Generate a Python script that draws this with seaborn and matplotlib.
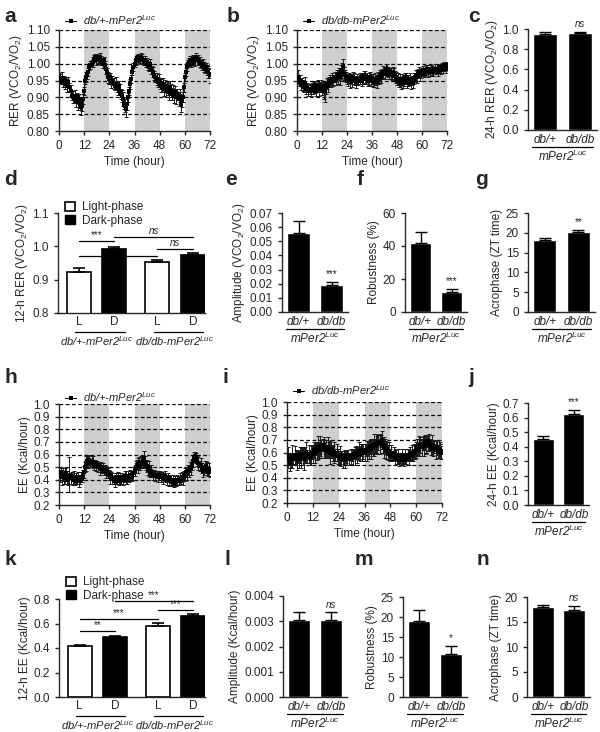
import numpy as np
import pandas as pd
import seaborn as sns
import matplotlib
matplotlib.use('Agg')
import matplotlib.pyplot as plt
import matplotlib.transforms as mtrans
from matplotlib.patches import Patch

# ---- time series, one value every 0.5 h from 0 to 72 h ----
rer_het = [0.960,0.955,0.950,0.958,0.945,0.952,0.940,0.948,0.935,0.945,0.930,0.920,
           0.905,0.900,0.895,0.905,0.890,0.900,0.885,0.895,0.880,0.870,0.875,0.895,
           0.920,0.950,0.960,0.965,0.975,0.990,0.995,1.000,1.005,1.015,1.020,1.010,
           1.020,1.015,1.010,1.020,1.010,1.005,1.000,1.010,0.995,0.985,0.975,0.960,
           0.955,0.960,0.945,0.950,0.940,0.935,0.940,0.930,0.925,0.935,0.920,0.910,
           0.905,0.895,0.880,0.875,0.865,0.880,0.900,0.920,0.940,0.955,0.975,0.990,
           1.000,1.010,1.015,1.020,1.015,1.010,1.020,1.015,1.010,1.005,1.010,1.000,
           1.005,0.995,0.990,1.000,0.985,0.980,0.975,0.965,0.960,0.955,0.945,0.950,
           0.940,0.935,0.930,0.940,0.925,0.935,0.920,0.930,0.925,0.915,0.930,0.920,
           0.910,0.920,0.905,0.915,0.900,0.910,0.895,0.905,0.880,0.890,0.900,0.930,
           0.960,0.975,0.990,1.000,1.005,1.010,1.000,1.010,1.015,1.005,1.010,1.020,
           1.010,1.015,1.005,1.000,0.995,1.000,0.990,0.985,0.990,0.980,0.975,0.970,0.965]
rer_het_err = [0.012,0.015,0.010,0.018,0.014,0.011,0.016,0.013,0.020,0.015,0.012,0.017,
               0.014,0.018,0.011,0.016,0.019,0.013,0.022,0.015,0.018,0.021,0.016,0.014,
               0.012,0.010,0.015,0.011,0.013,0.009,0.012,0.010,0.014,0.011,0.009,0.013,
               0.010,0.012,0.009,0.011,0.013,0.010,0.014,0.011,0.012,0.015,0.013,0.016,
               0.015,0.012,0.018,0.014,0.016,0.013,0.019,0.015,0.017,0.014,0.020,0.016,
               0.018,0.021,0.015,0.019,0.022,0.017,0.014,0.012,0.015,0.011,0.010,0.012,
               0.010,0.013,0.011,0.009,0.012,0.010,0.011,0.014,0.012,0.010,0.013,0.011,
               0.012,0.014,0.011,0.013,0.015,0.012,0.016,0.014,0.013,0.017,0.015,0.018,
               0.016,0.019,0.014,0.018,0.021,0.016,0.020,0.017,0.019,0.022,0.018,0.020,
               0.019,0.017,0.021,0.018,0.020,0.016,0.022,0.019,0.024,0.018,0.015,0.013,
               0.012,0.011,0.013,0.010,0.012,0.014,0.011,0.013,0.010,0.012,0.015,0.011,
               0.013,0.011,0.014,0.012,0.015,0.013,0.016,0.014,0.012,0.015,0.018,0.013,0.022]

rer_dbdb = [0.955,0.960,0.945,0.950,0.940,0.945,0.935,0.930,0.940,0.925,0.930,0.920,
            0.925,0.920,0.930,0.925,0.935,0.930,0.920,0.930,0.935,0.925,0.930,0.935,
            0.925,0.935,0.920,0.915,0.930,0.940,0.935,0.945,0.950,0.945,0.955,0.950,
            0.960,0.955,0.965,0.960,0.970,0.960,0.975,0.980,0.990,0.970,0.965,0.960,
            0.955,0.950,0.960,0.945,0.955,0.950,0.960,0.955,0.950,0.945,0.955,0.950,
            0.955,0.960,0.950,0.955,0.965,0.960,0.955,0.960,0.950,0.955,0.960,0.950,
            0.955,0.950,0.945,0.955,0.950,0.945,0.960,0.955,0.965,0.960,0.970,0.975,
            0.970,0.985,0.980,0.975,0.970,0.975,0.970,0.965,0.975,0.970,0.965,0.960,
            0.950,0.955,0.945,0.950,0.940,0.955,0.945,0.950,0.960,0.955,0.945,0.950,
            0.955,0.940,0.950,0.945,0.955,0.960,0.965,0.960,0.970,0.975,0.965,0.970,
            0.975,0.980,0.970,0.975,0.980,0.985,0.975,0.980,0.975,0.985,0.980,0.975,
            0.985,0.980,0.985,0.975,0.990,0.985,0.980,0.990,0.985,0.995,0.990,0.985,0.995]
rer_dbdb_err = [0.015,0.020,0.012,0.016,0.018,0.013,0.017,0.014,0.019,0.015,0.012,0.016,
                0.014,0.017,0.013,0.016,0.012,0.018,0.015,0.013,0.017,0.020,0.014,0.016,
                0.018,0.015,0.025,0.030,0.020,0.016,0.019,0.014,0.017,0.015,0.018,0.016,
                0.015,0.019,0.016,0.021,0.018,0.024,0.020,0.022,0.025,0.019,0.017,0.015,
                0.014,0.017,0.013,0.016,0.015,0.018,0.014,0.016,0.013,0.017,0.015,0.014,
                0.016,0.013,0.017,0.015,0.014,0.018,0.016,0.013,0.015,0.017,0.014,0.016,
                0.015,0.018,0.014,0.016,0.013,0.017,0.015,0.014,0.016,0.018,0.015,0.017,
                0.016,0.014,0.018,0.015,0.017,0.013,0.016,0.014,0.015,0.017,0.013,0.016,
                0.014,0.017,0.015,0.018,0.016,0.014,0.017,0.015,0.013,0.016,0.018,0.015,
                0.017,0.015,0.014,0.018,0.016,0.013,0.015,0.017,0.014,0.016,0.015,0.013,
                0.012,0.014,0.011,0.013,0.015,0.012,0.014,0.011,0.013,0.012,0.014,0.011,
                0.013,0.011,0.014,0.012,0.010,0.013,0.011,0.012,0.014,0.011,0.013,0.012,0.010]

ee_het = [0.45,0.43,0.46,0.42,0.44,0.41,0.43,0.45,0.42,0.40,0.44,0.41,
          0.43,0.40,0.42,0.39,0.41,0.40,0.42,0.39,0.40,0.42,0.41,0.44,
          0.46,0.50,0.53,0.55,0.54,0.56,0.53,0.55,0.54,0.52,0.53,0.51,
          0.52,0.50,0.51,0.49,0.50,0.48,0.49,0.47,0.48,0.46,0.47,0.45,
          0.44,0.42,0.43,0.41,0.40,0.39,0.41,0.40,0.42,0.39,0.41,0.40,
          0.42,0.40,0.41,0.43,0.42,0.40,0.43,0.41,0.44,0.42,0.43,0.45,
          0.47,0.50,0.52,0.51,0.53,0.52,0.54,0.53,0.55,0.57,0.54,0.52,
          0.51,0.48,0.49,0.46,0.47,0.45,0.44,0.45,0.43,0.44,0.42,0.43,
          0.44,0.42,0.43,0.41,0.42,0.43,0.41,0.40,0.42,0.39,0.41,0.40,
          0.38,0.40,0.37,0.39,0.38,0.40,0.39,0.41,0.40,0.42,0.41,0.43,
          0.44,0.46,0.45,0.48,0.47,0.50,0.49,0.52,0.55,0.58,0.59,0.57,
          0.55,0.53,0.51,0.52,0.49,0.47,0.48,0.50,0.51,0.49,0.47,0.48,0.46]
ee_het_err = [0.04,0.05,0.04,0.06,0.05,0.04,0.06,0.05,0.05,0.04,0.14,0.04,
              0.03,0.04,0.05,0.03,0.04,0.03,0.04,0.05,0.03,0.04,0.03,0.04,
              0.05,0.04,0.06,0.04,0.05,0.04,0.03,0.04,0.05,0.04,0.03,0.04,
              0.03,0.04,0.03,0.05,0.04,0.03,0.04,0.03,0.04,0.05,0.03,0.04,
              0.04,0.05,0.03,0.04,0.03,0.05,0.04,0.03,0.04,0.03,0.04,0.03,
              0.03,0.04,0.03,0.04,0.05,0.03,0.04,0.03,0.04,0.03,0.04,0.05,
              0.04,0.05,0.04,0.06,0.05,0.04,0.05,0.04,0.05,0.06,0.05,0.04,
              0.05,0.04,0.06,0.04,0.05,0.03,0.04,0.03,0.04,0.03,0.04,0.03,
              0.03,0.04,0.03,0.04,0.03,0.04,0.03,0.04,0.03,0.04,0.03,0.04,
              0.03,0.04,0.03,0.04,0.03,0.04,0.03,0.04,0.03,0.04,0.05,0.04,
              0.05,0.04,0.05,0.04,0.05,0.04,0.05,0.04,0.05,0.04,0.03,0.04,
              0.04,0.05,0.04,0.05,0.04,0.05,0.04,0.05,0.04,0.05,0.04,0.05,0.04]

ee_dbdb = [0.58,0.56,0.55,0.52,0.54,0.57,0.55,0.58,0.56,0.54,0.57,0.55,
           0.58,0.56,0.59,0.57,0.55,0.58,0.60,0.57,0.59,0.56,0.58,0.60,
           0.59,0.62,0.60,0.63,0.61,0.64,0.62,0.65,0.63,0.66,0.64,0.62,
           0.63,0.61,0.64,0.62,0.60,0.63,0.61,0.59,0.60,0.58,0.60,0.57,
           0.56,0.58,0.55,0.57,0.54,0.56,0.55,0.57,0.56,0.58,0.55,0.57,
           0.58,0.56,0.59,0.57,0.60,0.58,0.59,0.61,0.59,0.62,0.60,0.61,
           0.60,0.62,0.61,0.63,0.62,0.64,0.63,0.65,0.64,0.66,0.65,0.67,
           0.66,0.68,0.67,0.69,0.70,0.66,0.64,0.65,0.62,0.63,0.60,0.61,
           0.58,0.60,0.57,0.59,0.56,0.58,0.55,0.57,0.54,0.56,0.55,0.57,
           0.56,0.54,0.57,0.55,0.58,0.56,0.59,0.57,0.60,0.58,0.61,0.60,
           0.62,0.64,0.63,0.65,0.66,0.64,0.67,0.65,0.68,0.66,0.69,0.67,
           0.68,0.66,0.64,0.66,0.63,0.65,0.62,0.64,0.61,0.63,0.62,0.60,0.61]
ee_dbdb_err = [0.06,0.08,0.05,0.07,0.06,0.09,0.05,0.07,0.06,0.08,0.05,0.07,
               0.06,0.08,0.05,0.07,0.09,0.06,0.08,0.05,0.07,0.06,0.08,0.05,
               0.07,0.06,0.08,0.05,0.07,0.09,0.06,0.08,0.07,0.05,0.08,0.06,
               0.07,0.05,0.08,0.06,0.09,0.07,0.05,0.06,0.08,0.05,0.07,0.06,
               0.05,0.07,0.06,0.04,0.06,0.05,0.07,0.05,0.06,0.04,0.05,0.06,
               0.05,0.06,0.04,0.07,0.05,0.06,0.05,0.07,0.06,0.05,0.07,0.06,
               0.07,0.05,0.08,0.06,0.07,0.05,0.08,0.06,0.07,0.09,0.06,0.08,
               0.07,0.06,0.08,0.05,0.07,0.06,0.08,0.06,0.07,0.05,0.06,0.07,
               0.05,0.06,0.04,0.05,0.06,0.05,0.04,0.06,0.05,0.04,0.05,0.06,
               0.04,0.05,0.06,0.04,0.05,0.06,0.05,0.04,0.06,0.05,0.06,0.05,
               0.06,0.07,0.05,0.08,0.06,0.07,0.05,0.08,0.06,0.07,0.05,0.06,
               0.07,0.05,0.06,0.08,0.06,0.05,0.07,0.06,0.05,0.07,0.06,0.05,0.06]

hours = [0, 12, 24, 36, 48, 60, 72]
dark_start = [12, 36, 60]
rer_ticks = [0.80, 0.85, 0.90, 0.95, 1.00, 1.05, 1.10]
ee_ticks = [0.2, 0.3, 0.4, 0.5, 0.6, 0.7, 0.8, 0.9, 1.0]

# ---- bar panels ----
genotypes = ['db/+', 'db/db']
phases = ['Light', 'Dark', 'Light', 'Dark']
phase_geno = ['db/+', 'db/+', 'db/db', 'db/db']

rer24 = [0.955, 0.960];      rer24_err = [0.020, 0.010]
rer12 = [0.922, 0.991, 0.954, 0.975]; rer12_err = [0.014, 0.006, 0.005, 0.006]
rer_amp = [0.056, 0.019];    rer_amp_err = [0.008, 0.002]
rer_rob = [42, 12];          rer_rob_err = [6.3, 2.2]
rer_acro = [18.2, 20.3];     rer_acro_err = [0.5, 0.5]
ee24 = [0.455, 0.622];       ee24_err = [0.017, 0.032]
ee12 = [0.415, 0.492, 0.582, 0.662]; ee12_err = [0.011, 0.010, 0.020, 0.015]
ee_amp = [0.00305, 0.00305]; ee_amp_err = [0.00030, 0.00030]
ee_rob = [19.0, 10.8];       ee_rob_err = [2.7, 2.0]
ee_acro = [18.0, 17.5];      ee_acro_err = [0.4, 0.8]

for v, e in [(rer_het, rer_het_err), (rer_dbdb, rer_dbdb_err), (ee_het, ee_het_err), (ee_dbdb, ee_dbdb_err)]:
    assert len(v) == 145 and len(e) == 145

sns.set_style('ticks')
plt.rcParams['font.family'] = ['Liberation Sans', 'DejaVu Sans']
plt.rcParams['mathtext.fontset'] = 'custom'
plt.rcParams['mathtext.rm'] = 'Liberation Sans'
plt.rcParams['mathtext.it'] = 'Liberation Sans:italic'
plt.rcParams['font.size'] = 8.5
plt.rcParams['axes.linewidth'] = 1.0
plt.rcParams['xtick.major.width'] = 1.0
plt.rcParams['ytick.major.width'] = 1.0
plt.rcParams['xtick.major.size'] = 3
plt.rcParams['ytick.major.size'] = 3
plt.rcParams['axes.labelsize'] = 8.5
plt.rcParams['xtick.labelsize'] = 8.5
plt.rcParams['ytick.labelsize'] = 8.5

fig = plt.figure(figsize=(6, 7.32), dpi=100)


def add_ax(l, t, w, h):
    return fig.add_axes([l / 600, 1 - (t + h) / 732, w / 600, h / 732])


def under(ax, x1, x2, label, line_pt, text_pt, xc=None, size=8.5):
    tr = ax.get_xaxis_transform() + mtrans.ScaledTranslation(0, -line_pt / 72, fig.dpi_scale_trans)
    ax.plot([x1, x2], [0, 0], transform=tr, color='black', lw=0.9, clip_on=False)
    if xc is None:
        xc = (x1 + x2) / 2
    ax.annotate(label, xy=(xc, 0), xycoords=ax.get_xaxis_transform(),
                xytext=(0, -text_pt), textcoords='offset points', ha='center', va='center',
                fontstyle='italic', fontsize=size)


def ts_panel(ax, vals, errs, label, ticks, ylabel, fmt, leg_y):
    t = np.arange(len(vals)) * 0.5
    for s in dark_start:
        ax.axvspan(s, s + 12, color='#cfcfcf', lw=0, zorder=0)
    for y in ticks[1:]:
        ax.axhline(y, color='black', ls=(0, (3, 2)), lw=0.9, zorder=1)
    ax.errorbar(t, vals, yerr=errs, fmt='none', ecolor='#1a1a1a', elinewidth=0.7,
                capsize=1.4, capthick=0.7, zorder=2)
    sns.lineplot(x=t, y=vals, ax=ax, color='black', lw=0.8, marker='s', markersize=2.4,
                 markeredgewidth=0, zorder=3, label=label)
    ax.set_xlim(0, 72)
    ax.set_ylim(ticks[0], ticks[-1])
    ax.set_xticks(hours)
    ax.set_xticklabels([str(h) for h in hours])
    ax.set_yticks(ticks)
    ax.set_yticklabels([fmt % y for y in ticks])
    ax.set_xlabel('Time (hour)', labelpad=3)
    ax.set_ylabel(ylabel, labelpad=2)
    ax.legend(loc='lower left', bbox_to_anchor=(0.04, leg_y), frameon=False, handlelength=1.0,
              borderpad=0, borderaxespad=0, handletextpad=0.6, prop={'style': 'italic', 'size': 8})
    sns.despine(ax=ax)


def bar_panel(ax, vals, errs, ticks, ylabel, fmt, sig):
    df = pd.DataFrame({'g': genotypes, 'v': vals})
    sns.barplot(data=df, x='g', y='v', color='black', width=0.7, errorbar=None,
                saturation=1, ax=ax)
    ax.errorbar([0, 1], vals, yerr=[[0, 0], errs], fmt='none', ecolor='black',
                elinewidth=1, capsize=4, capthick=1)
    ax.set_xlim(-0.5, 1.5)
    ax.set_ylim(ticks[0], ticks[-1])
    ax.set_yticks(ticks)
    ax.set_yticklabels([fmt % y for y in ticks])
    ax.set_xticks([0, 1])
    ax.set_xticklabels(genotypes, fontstyle='italic')
    ax.tick_params(axis='x', length=0, pad=3)
    ax.set_xlabel('')
    ax.set_ylabel(ylabel, labelpad=2)
    ax.annotate(sig, xy=(1, vals[1] + errs[1]), xytext=(0, 2), textcoords='offset points',
                ha='center', va='bottom', fontsize=7, fontstyle='italic' if sig == 'ns' else 'normal',
                annotation_clip=False)
    under(ax, -0.38, 1.38, 'mPer2$^{Luc}$', 12.5, 19)
    sns.despine(ax=ax)


def phase_panel(ax, vals, errs, ticks, ylabel, fmt, sigs, leg_y):
    df = pd.DataFrame({'g': phase_geno, 'p': phases, 'v': vals})
    sns.barplot(data=df, x='g', y='v', hue='p', palette={'Light': 'white', 'Dark': 'black'},
                edgecolor='black', linewidth=1.2, width=0.9, gap=0.32, errorbar=None,
                saturation=1, ax=ax, legend=False)
    cx = [-0.225, 0.225, 0.775, 1.225]
    ax.errorbar(cx, vals, yerr=[[0] * 4, errs], fmt='none', ecolor='black',
                elinewidth=1.2, capsize=4, capthick=1.2, zorder=5)
    ax.set_xlim(-0.49, 1.38)
    ax.set_ylim(ticks[0], ticks[-1])
    ax.set_yticks(ticks)
    ax.set_yticklabels([fmt % y for y in ticks])
    ax.set_xticks(cx)
    ax.set_xticklabels(['L', 'D', 'L', 'D'])
    ax.tick_params(axis='x', length=0, pad=2)
    ax.set_xlabel('')
    ax.set_ylabel(ylabel, labelpad=2)
    for i1, i2, y, txt in sigs:
        ax.plot([cx[i1], cx[i2]], [y, y], color='black', lw=0.9, clip_on=False, zorder=6)
        ax.annotate(txt, xy=((cx[i1] + cx[i2]) / 2, y), xytext=(0, 0.5), textcoords='offset points',
                    ha='center', va='bottom', fontsize=7,
                    fontstyle='italic' if txt == 'ns' else 'normal', annotation_clip=False)
    under(ax, -0.27, 0.36, 'db/+-mPer2$^{Luc}$', 13.5, 20, xc=0.0, size=8)
    under(ax, 0.73, 1.36, 'db/db-mPer2$^{Luc}$', 13.5, 20, xc=0.99, size=8)
    handles = [Patch(facecolor='white', edgecolor='black', lw=1.2, label='Light-phase'),
               Patch(facecolor='black', edgecolor='black', label='Dark-phase')]
    ax.legend(handles=handles, loc='lower left', bbox_to_anchor=(0.05, leg_y), frameon=False,
              handlelength=0.8, handleheight=0.8, labelspacing=0.15, borderpad=0,
              borderaxespad=0, handletextpad=0.6, fontsize=8.5)
    sns.despine(ax=ax)


vco = '(VCO$_2$/VO$_2$)'

ax = add_ax(59, 30, 151, 101)
ts_panel(ax, rer_het, rer_het_err, 'db/+-mPer2$^{Luc}$', rer_ticks, 'RER ' + vco, '%.2f', 1.03)
ax = add_ax(297, 30, 150, 101)
ts_panel(ax, rer_dbdb, rer_dbdb_err, 'db/db-mPer2$^{Luc}$', rer_ticks, 'RER ' + vco, '%.2f', 1.03)
ax = add_ax(528, 29, 69, 101)
bar_panel(ax, rer24, rer24_err, [0.0, 0.2, 0.4, 0.6, 0.8, 1.0], '24-h RER ' + vco, '%.1f', 'ns')

ax = add_ax(58, 213, 147, 100)
phase_panel(ax, rer12, rer12_err, [0.8, 0.9, 1.0, 1.1], '12-h RER ' + vco, '%.1f',
            [(0, 1, 1.016, '***'), (1, 3, 1.028, 'ns'), (0, 2, 0.971, '*'), (2, 3, 0.992, 'ns')], 0.86)
ax = add_ax(282, 213, 66, 99)
bar_panel(ax, rer_amp, rer_amp_err, [0.00, 0.01, 0.02, 0.03, 0.04, 0.05, 0.06, 0.07],
          'Amplitude ' + vco, '%.2f', '***')
ax = add_ax(405, 213, 62, 99)
bar_panel(ax, rer_rob, rer_rob_err, [0, 20, 40, 60], 'Robustness (%)', '%d', '***')
ax = add_ax(528, 213, 67, 99)
bar_panel(ax, rer_acro, rer_acro_err, [0, 5, 10, 15, 20, 25], 'Acrophase (ZT time)', '%d', '**')

ax = add_ax(59, 404, 151, 101)
ts_panel(ax, ee_het, ee_het_err, 'db/+-mPer2$^{Luc}$', ee_ticks, 'EE (Kcal/hour)', '%.1f', 1.0)
ax = add_ax(287, 402, 155, 101)
ts_panel(ax, ee_dbdb, ee_dbdb_err, 'db/db-mPer2$^{Luc}$', ee_ticks, 'EE (Kcal/hour)', '%.1f', 1.05)
ax = add_ax(528, 403, 61, 102)
bar_panel(ax, ee24, ee24_err, [0.0, 0.1, 0.2, 0.3, 0.4, 0.5, 0.6, 0.7], '24-h EE (Kcal/hour)', '%.1f', '***')

ax = add_ax(59, 599, 146, 98)
phase_panel(ax, ee12, ee12_err, [0.0, 0.2, 0.4, 0.6, 0.8], '12-h EE (Kcal/hour)', '%.1f',
            [(0, 1, 0.539, '**'), (0, 2, 0.637, '***'), (2, 3, 0.71, '***'), (1, 3, 0.786, '***')], 0.97)
ax = add_ax(283, 596, 64, 101)
bar_panel(ax, ee_amp, ee_amp_err, [0.000, 0.001, 0.002, 0.003, 0.004], 'Amplitude (Kcal/hour)', '%.3f', 'ns')
ax = add_ax(403, 597, 64, 100)
bar_panel(ax, ee_rob, ee_rob_err, [0, 5, 10, 15, 20, 25], 'Robustness (%)', '%d', '*')
ax = add_ax(527, 597, 63, 100)
bar_panel(ax, ee_acro, ee_acro_err, [0, 5, 10, 15, 20], 'Acrophase (ZT time)', '%d', 'ns')

letters = [('a', 4, 22), ('b', 227, 22), ('c', 468, 22),
           ('d', 4, 185), ('e', 225, 185), ('f', 357, 185), ('g', 475, 185),
           ('h', 4, 383), ('i', 223, 383), ('j', 468, 383),
           ('k', 4, 565), ('l', 225, 565), ('m', 355, 565), ('n', 477, 565)]
for s, x, y in letters:
    fig.text(x / 600, 1 - y / 732, s, fontsize=15, fontweight='bold', ha='left', va='baseline')

fig.savefig('out.png', dpi=100)
